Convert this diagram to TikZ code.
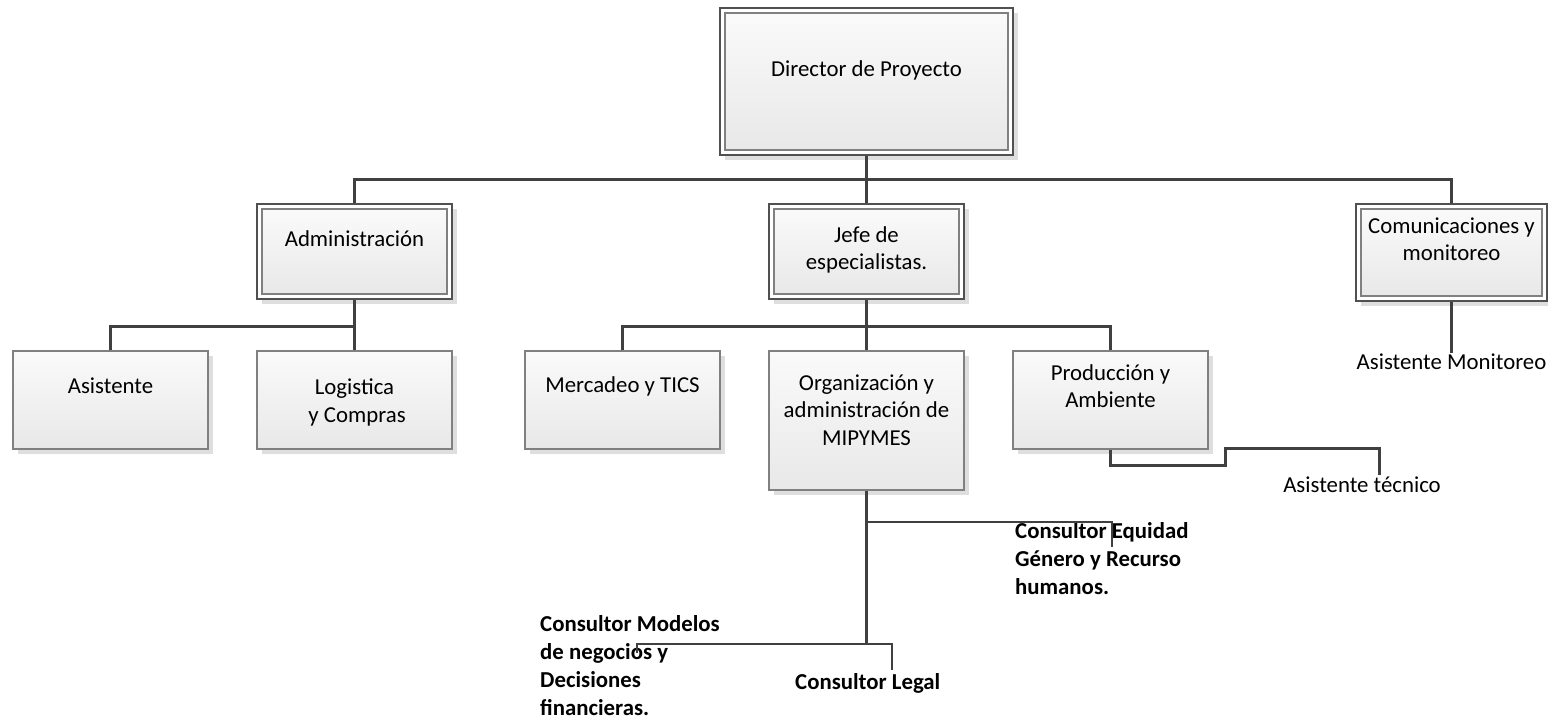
\documentclass[tikz,border=0pt]{standalone}
\usepackage{fontspec}
\setmainfont{Carlito}
\usetikzlibrary{shadows}
\definecolor{lin}{HTML}{404040}
\definecolor{brd}{HTML}{808080}
\definecolor{obrd}{HTML}{505050}
\tikzset{
  shad/.style={drop shadow={shadow xshift=5pt, shadow yshift=-5pt, fill=black!13, opacity=1}},
  grad/.style={top color=black!2, bottom color=black!9},
  sbox/.style={draw=brd, line width=1.5pt, grad, shad, inner sep=0pt, minimum width=195pt, minimum height=98pt},
  obox/.style={draw=obrd, line width=1.5pt, fill=white, shad, inner sep=0pt},
  ibox/.style={draw=brd, line width=1.5pt, grad, inner sep=0pt},
  txt/.style={font=\fontsize{22.8}{27.5}\selectfont, align=center, anchor=base, inner sep=0pt},
  btxt/.style={font=\fontsize{22.8}{28}\selectfont\bfseries, align=left, anchor=base west, inner sep=0pt},
  conn/.style={draw=lin, line width=3pt},
  thin conn/.style={draw=lin, line width=2.3pt},
}
\begin{document}
\begin{tikzpicture}[x=1pt, y=-1pt]
\useasboundingbox (0,0) rectangle (1548,722);

% top-level double-framed boxes
\node[obox, minimum width=293pt, minimum height=147pt] (dir) at (866.5,81.5) {};
\node[ibox, minimum width=283pt, minimum height=137pt] (dirin) at (866.5,81.5) {};
\node[obox, minimum width=195pt, minimum height=95pt] (adm) at (354.5,251.5) {};
\node[ibox, minimum width=185pt, minimum height=85pt] (admin) at (354.5,251.5) {};
\node[obox, minimum width=195pt, minimum height=95pt] (jefe) at (866.5,251.5) {};
\node[ibox, minimum width=185pt, minimum height=85pt] (jefein) at (866.5,251.5) {};
\node[obox, minimum width=191pt, minimum height=97pt] (com) at (1451.5,252.5) {};
\node[ibox, minimum width=181pt, minimum height=87pt] (comin) at (1451.5,252.5) {};

% second level boxes
\node[sbox] (asis) at (110.5,400) {};
\node[sbox] (logi) at (354.5,400) {};
\node[sbox] (merc) at (622.5,400) {};
\node[sbox, minimum height=139pt] (org) at (866.5,420.5) {};
\node[sbox] (prod) at (1110.5,400) {};

% texts (base anchor = baseline of the last line)
\node[txt] (tdir) at (866.5,77) {Director de Proyecto};
\node[txt] (tadm) at (354.5,247) {Administración};
\node[txt] (tjefe) at (866.5,269.5) {Jefe de\\especialistas.};
\node[txt] (tcom) at (1451.5,261) {Comunicaciones y\\monitoreo};
\node[txt] (tasis) at (110.5,393) {Asistente};
\node[txt] (tlogi) at (354.5,422) {Logistica\\\ y Compras};
\node[txt] (tmerc) at (622.5,392) {Mercadeo y TICS};
\node[txt] (torg) at (866.5,445) {Organización y\\administración de\\MIPYMES};
\node[txt] (tprod) at (1110.5,407.5) {Producción y\\Ambiente};
\node[txt] (amon) at (1451.5,369) {Asistente Monitoreo};
\node[txt] (atec) at (1362,492) {Asistente técnico};
\node[btxt] (ceq) at (1015,594) {Consultor Equidad\\Género y Recurso\\humanos.};
\node[btxt] (cmod) at (540,715) {Consultor Modelos\\de negocios y\\Decisiones\\financieras.};
\node[btxt] (cleg) at (795,689) {Consultor Legal};

% connector coordinates
\coordinate (bus) at (866.5,180);
\coordinate (abus) at (354.5,326);
\coordinate (jbus) at (866.5,326);
\coordinate (omid) at (866.5,522);
\coordinate (olow) at (866.5,644);
\coordinate (step1) at (1225,465);
\coordinate (step2) at (1379,448);
\coordinate (tecend) at (1379,475);
\coordinate (eqend) at (1112,547);
\coordinate (modend) at (637,653);
\coordinate (legend) at (892,670);

% connectors
\draw[conn] (dir.south) -- (jefe.north);
\draw[conn] (adm.north) |- (bus) -| (com.north);
\draw[conn] (adm.south) -- (logi.north);
\draw[conn] (asis.north) |- (abus);
\draw[conn] (jefe.south) -- (org.north);
\draw[conn] (merc.north) |- (jbus) -| (prod.north);
\draw[conn] (com.south) -- (amon.north);
\draw[conn] (prod.south) |- (step1) |- (step2) -- (tecend);
\draw[conn] (org.south) -- (olow);
\draw[thin conn] (omid) -| (eqend);
\draw[thin conn] (modend) |- (olow) -| (legend);
\end{tikzpicture}
\end{document}
